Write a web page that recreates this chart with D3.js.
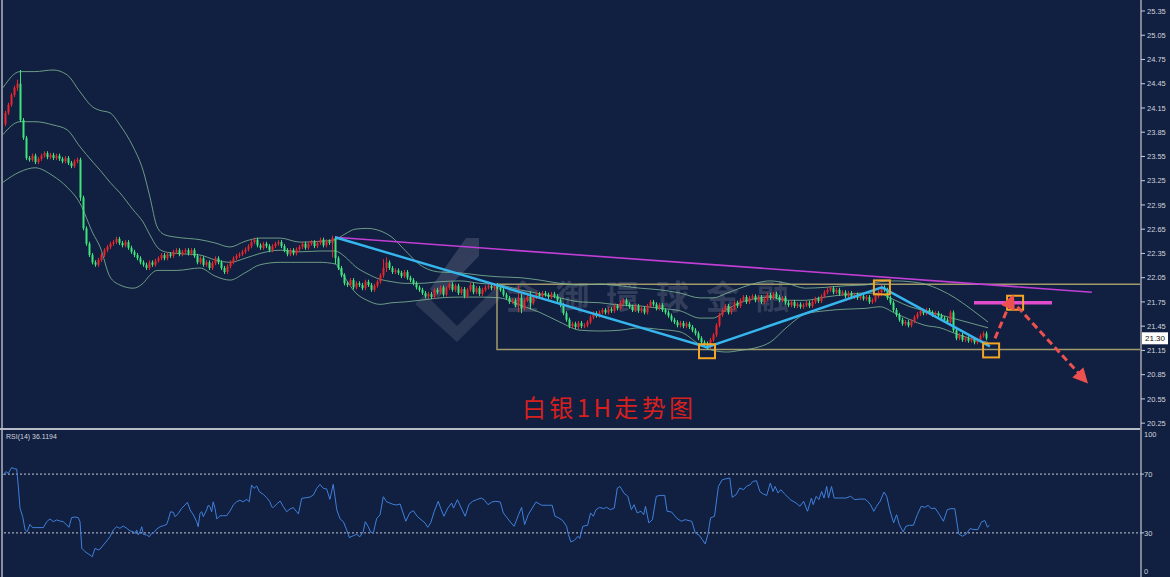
<!DOCTYPE html>
<html><head><meta charset="utf-8">
<script src="https://cdn.jsdelivr.net/npm/d3@7"></script>
<style>html,body{margin:0;padding:0;background:#111f40;overflow:hidden}</style>
</head><body><svg id="c" width="1170" height="577"></svg>
<script>
// ---------------- DATA ----------------
const firstOpen = 23.95;
const closes = [
24.09,24.19,24.31,24.40,24.45,24.00,23.78,23.53,23.51,23.56,
23.48,23.52,23.56,23.59,23.54,23.57,23.53,23.56,23.52,23.49,
23.53,23.47,23.43,23.49,23.51,23.04,22.66,22.47,22.33,22.24,
22.21,22.27,22.33,22.39,22.43,22.47,22.49,22.53,22.48,22.45,
22.49,22.42,22.37,22.33,22.29,22.24,22.21,22.17,22.24,22.21,
22.26,22.29,22.33,22.29,22.34,22.32,22.37,22.39,22.34,22.37,
22.39,22.35,22.39,22.32,22.24,22.29,22.21,22.24,22.17,22.23,
22.29,22.24,22.17,22.12,22.19,22.24,22.29,22.32,22.34,22.37,
22.40,22.44,22.49,22.52,22.45,22.42,22.47,22.44,22.39,22.44,
22.47,22.49,22.44,22.39,22.34,22.39,22.35,22.40,22.43,22.47,
22.42,22.47,22.49,22.44,22.48,22.52,22.45,22.50,22.48,22.54,
22.29,22.17,22.08,21.98,21.96,22.02,21.93,21.98,21.96,21.92,
22.00,21.96,21.90,21.95,22.00,22.08,22.17,22.24,22.17,22.12,
22.14,22.11,22.07,22.12,22.05,22.02,21.98,21.93,21.90,21.86,
21.82,21.85,21.81,21.90,21.87,21.93,21.84,21.92,21.97,21.90,
21.95,21.86,21.91,21.82,21.90,21.96,21.87,21.92,21.85,21.90,
21.93,21.95,21.92,21.96,21.93,21.90,21.84,21.80,21.75,21.77,
21.71,21.80,21.67,21.77,21.82,21.74,21.81,21.85,21.82,21.86,
21.84,21.81,21.85,21.82,21.77,21.71,21.61,21.53,21.45,21.48,
21.44,21.49,21.45,21.46,21.50,21.56,21.61,21.58,21.62,21.65,
21.62,21.66,21.64,21.70,21.67,21.74,21.77,21.72,21.69,21.65,
21.70,21.64,21.67,21.62,21.70,21.75,21.72,21.67,21.71,21.65,
21.62,21.58,21.53,21.50,21.46,21.49,21.45,21.48,21.44,21.40,
21.36,21.30,21.25,21.22,21.19,21.28,21.34,21.46,21.59,21.65,
21.70,21.62,21.67,21.74,21.70,21.77,21.81,21.75,21.80,21.82,
21.77,21.81,21.75,21.79,21.84,21.80,21.85,21.81,21.77,21.80,
21.74,21.71,21.75,21.70,21.72,21.69,21.71,21.74,21.70,21.75,
21.79,21.76,21.82,21.87,21.90,21.92,21.87,21.90,21.85,21.87,
21.82,21.86,21.81,21.84,21.80,21.82,21.79,21.81,21.75,21.77,
21.82,21.87,21.93,21.90,21.80,21.74,21.65,21.59,21.53,21.48,
21.50,21.46,21.51,21.56,21.60,21.64,21.61,21.65,21.62,21.59,
21.61,21.58,21.55,21.53,21.50,21.62,21.40,21.30,21.34,21.28,
21.30,21.27,21.29,21.25,21.28,21.33,21.36,21.30];
// notable wicks: [candle index, high, low]
const bigWicks = [[4,24.50,24.36],[5,24.62,23.98],[25,23.53,23.00],[109,22.57,22.30],[110,22.56,22.22],
  [126,22.28,22.05],[127,22.30,22.12],[171,21.95,21.62],[172,21.85,21.61],[175,21.88,21.66],
  [234,21.26,21.16],[292,21.96,21.82],[315,21.63,21.48]];
const wickDefault = 0.025;

// Bollinger bands (candle index -> price)
const bandIdx = [-0.7,5,10,16,20.7,25,29.3,31.7,35,38.3,42.7,46,48.3,50.7,53.3,57.3,65,70,75,80,85,91.7,98.3,105,110,113.3,116.7,120.7,125,129,133.3,138.3,145,151.7,158.3,165,171.7,178.3,185,191.7,198.3,205,211.7,218.3,225,231.7,236,240.7,245,250,255,260.7,266.7,273.3,280,286.7,291.7,296.7,301.7,306.7,311.7,316.7,321.7,327.7];
const bandUpper = [24.40,24.60,24.60,24.62,24.56,24.35,24.16,24.12,24.09,23.94,23.67,23.38,23.05,22.68,22.58,22.55,22.52,22.48,22.43,22.50,22.54,22.54,22.49,22.50,22.52,22.59,22.65,22.66,22.63,22.55,22.39,22.21,22.12,22.11,22.08,22.06,22.05,22.02,21.98,21.96,21.97,21.95,21.92,21.90,21.86,21.80,21.80,21.86,21.92,21.98,22.01,21.98,21.92,21.93,21.95,21.96,22.00,22.01,22.00,21.97,21.90,21.80,21.67,21.50];
const bandMiddle = [23.82,23.98,23.98,23.94,23.88,23.67,23.48,23.38,23.23,23.10,22.89,22.74,22.58,22.43,22.37,22.35,22.33,22.27,22.24,22.29,22.35,22.39,22.37,22.38,22.38,22.31,22.19,22.10,22.03,22.00,21.98,21.98,22.00,22.01,21.98,21.96,21.90,21.85,21.80,21.75,21.74,21.71,21.70,21.67,21.64,21.55,21.55,21.66,21.74,21.79,21.81,21.77,21.77,21.81,21.84,21.86,21.85,21.77,21.69,21.64,21.59,21.54,21.49,21.43];
const bandLower = [23.23,23.36,23.41,23.31,23.17,22.97,22.60,22.43,22.06,21.96,21.92,21.98,22.08,22.14,22.14,22.14,22.17,22.07,22.02,22.11,22.21,22.24,22.24,22.24,22.22,22.05,21.87,21.77,21.72,21.74,21.75,21.77,21.80,21.81,21.81,21.80,21.71,21.62,21.50,21.40,21.39,21.40,21.43,21.41,21.38,21.22,21.15,21.13,21.15,21.18,21.25,21.44,21.60,21.64,21.66,21.67,21.69,21.61,21.53,21.46,21.43,21.36,21.30,21.25];

// RSI(14): [candle index, value]
const rsiSeries = [[-0.6,69.4],[0.3,71.7],[1.1,70.5],[2.2,74.4],[3.3,73.5],[3.9,73.5],[4.4,62.6],[5.0,46.7],[5.9,41.0],[6.7,32.0],[7.4,30.8],[8.3,35.8],[9.2,33.6],[10.6,33.6],[12.8,33.6],[13.9,37.6],[15.0,39.5],[16.1,37.6],[17.2,38.8],[18.3,38.1],[19.4,37.6],[20.6,35.4],[21.3,33.8],[22.2,40.4],[23.3,40.8],[24.4,40.4],[25.0,37.6],[25.6,19.5],[26.7,17.2],[28.3,15.0],[29.1,13.8],[30.0,19.5],[31.1,18.4],[31.7,19.0],[32.8,21.8],[33.9,24.5],[35.0,27.4],[36.1,32.0],[37.2,34.2],[38.3,33.1],[39.4,34.7],[40.6,33.1],[41.7,31.3],[42.8,30.8],[43.3,29.5],[43.9,32.0],[44.4,28.6],[45.0,30.8],[45.6,34.2],[46.1,29.0],[47.2,28.6],[48.1,27.4],[48.9,29.7],[49.7,30.4],[50.6,32.7],[51.7,34.2],[52.8,34.9],[53.9,35.8],[54.4,38.8],[55.2,44.4],[56.1,44.0],[56.7,41.0],[57.8,43.3],[58.9,46.7],[60.0,49.0],[60.8,50.8],[61.7,45.6],[62.8,42.2],[63.9,37.6],[64.4,34.2],[65.0,43.3],[65.6,44.4],[66.1,41.0],[67.2,45.6],[67.8,49.0],[68.3,47.8],[68.9,44.4],[69.4,51.2],[70.0,46.7],[70.6,39.5],[71.7,41.7],[72.8,41.7],[73.9,41.7],[75.0,44.9],[76.1,49.0],[77.2,51.2],[78.3,52.2],[79.4,51.2],[80.6,52.8],[81.4,51.2],[82.2,62.6],[83.0,60.3],[83.9,61.9],[84.8,58.0],[86.1,56.2],[87.2,54.0],[88.3,51.2],[88.9,47.8],[89.4,47.2],[90.6,49.7],[91.7,51.7],[92.8,47.8],[93.9,44.4],[95.0,46.3],[96.1,47.2],[97.2,44.4],[97.8,42.9],[98.9,53.5],[100.6,54.0],[101.7,54.4],[102.8,55.8],[103.9,60.3],[105.0,63.0],[106.1,60.3],[107.2,59.9],[108.3,52.8],[109.4,63.0],[110.0,54.6],[110.6,45.6],[111.7,39.5],[112.8,37.6],[113.9,32.0],[114.8,26.8],[116.1,28.1],[117.2,29.0],[118.3,27.4],[119.4,30.8],[120.1,37.6],[121.1,34.2],[121.9,30.4],[122.8,30.2],[123.9,39.9],[125.0,42.2],[126.1,54.6],[127.2,51.2],[129.4,49.4],[130.6,49.0],
[131.7,49.7],[133.6,37.9],[134.9,43.6],[136.1,45.1],[137.4,41.3],[138.7,39.0],[140.0,36.8],[140.9,33.8],[141.9,36.8],[143.1,44.7],[144.4,51.5],[145.4,45.8],[146.3,41.3],[147.6,46.9],[148.9,50.3],[149.5,46.9],[150.8,52.6],[152.1,46.9],[153.4,41.3],[154.6,49.2],[155.9,51.5],[157.2,52.6],[158.7,53.7],[159.7,52.6],[161.0,49.2],[162.3,51.0],[163.6,51.5],[165.1,51.0],[166.1,43.6],[167.4,40.2],[168.7,36.8],[169.7,34.5],[171.2,42.4],[172.2,47.4],[173.2,35.6],[174.4,42.4],[177.0,51.0],[178.9,48.8],[180.8,48.8],[182.4,48.8],[183.3,41.3],[184.6,40.2],[185.9,38.4],[187.2,34.5],[187.8,28.9],[188.6,23.9],[189.7,24.8],[191.0,27.7],[191.6,26.2],[192.6,34.5],[194.2,35.2],[195.2,43.6],[196.1,41.3],[197.0,45.8],[198.2,47.4],[199.5,46.5],[200.5,47.4],[201.8,45.8],[203.1,46.9],[204.1,60.5],[205.0,61.6],[206.3,57.1],[207.6,54.9],[208.8,45.8],[209.7,49.2],[210.7,43.6],[212.0,44.7],[212.9,42.4],[213.5,48.1],[214.6,36.8],[215.8,39.0],[217.1,54.9],[218.4,55.5],[219.9,55.5],[220.7,44.7],[222.2,44.2],[223.8,40.2],[225.4,37.9],[226.7,39.0],[228.9,37.9],[230.1,30.0],[231.4,28.4],[232.4,25.5],[233.4,22.5],[234.3,28.9],[235.2,40.2],[236.5,41.3],[237.8,61.6],[239.1,66.2],[240.3,66.8],[241.6,67.3],[242.4,54.2],[243.7,56.0],[244.9,60.5],[246.2,59.4],[247.1,61.6],[248.4,62.8],[249.3,65.0],[250.5,65.5],[251.6,58.2],[252.8,56.4],[253.9,55.5],[255.1,63.9],[256.0,58.2],[256.7,61.6],[257.7,57.1],[258.6,59.4],[259.9,56.4],[261.8,52.6],[263.7,50.3],[265.0,48.1],[266.2,51.5],[267.5,44.7],[268.8,53.7],[269.4,49.2],[270.4,54.9],[271.3,52.6],[272.2,58.2],[273.0,53.7],[273.9,61.6],[274.5,53.7],[275.5,61.6],[276.4,53.7],[278.3,53.7],[280.3,53.7],[281.9,54.9],[283.2,52.6],[284.7,53.0],[286.6,53.0],[287.5,51.5],[288.5,49.2],[289.6,44.7],[290.5,48.1],[291.7,51.5],[293.0,57.8],[293.9,54.9],[294.9,45.8],[296.2,36.8],[297.2,42.4],[298.1,35.6],[299.4,30.7],[300.3,34.5],[301.5,35.2],[302.8,35.2],[304.1,42.4],[305.4,48.1],[306.7,47.4],[307.7,48.8],[308.7,46.5],[310.0,46.9],[311.5,42.4],[312.8,37.9],[314.1,45.8],[315.3,46.5],[316.6,46.5],[317.9,29.3],[319.2,27.7],[320.4,29.3],[321.7,32.9],[323.0,32.3],[324.3,32.3],[325.5,37.5],[326.6,38.4],[327.5,33.8],[328.1,35.2]];

const priceTicks = [25.35,25.05,24.75,24.45,24.15,23.85,23.55,23.25,22.95,22.65,22.35,22.05,21.75,21.45,21.15,20.85,20.55,20.25];
const rsiTicks = [100,70,30,0];
const rsiLevels = [70,30];
const rsiLabel = "RSI(14) 36.1194";
const title = "白银1H走势图";
const watermark = ["金","御","環","球","金","融"];
// drawn analysis: [candle index, price]
const zigzag = [[110,22.55],[234,21.19],[292.3,21.93],[328.3,21.20]];
const trendTop = [[110,22.55],[362.3,21.87]];
const rangeBox = {from:164, top:21.97, bottom:21.16};
const markers = [[234,21.14],[292.3,21.93],[328.7,21.15],[336.7,21.74]];
const pinkLevel = {from:323, to:349, price:21.74};
const arrowUp = [[330,21.30],[335.3,21.76]];
const arrowDown = [[337.5,21.69],[359.3,20.81]];

// ---------------- CHART ----------------
const W=1170,H=577, axisX=1141;
const svg=d3.select('#c');
svg.append('rect').attr('width',W).attr('height',H).attr('fill','#111f40');

const N = closes.length;
const x=d3.scaleLinear().domain([0,N-1]).range([5,986]);
const y=d3.scaleLinear().domain([20.19,25.486]).range([428,0]);
const yr=d3.scaleLinear().domain([0,100]).range([577,430]);

const wickMap = new Map(bigWicks.map(d=>[d[0],d]));
const candles = closes.map((c,i)=>{
  const o = i===0?firstOpen:closes[i-1];
  let h = Math.max(o,c)+wickDefault, l = Math.min(o,c)-wickDefault;
  const w = wickMap.get(i);
  if(w){ h=Math.max(h,w[1]); l=Math.min(l,w[2]); }
  return {i,o,c,h,l};
});

const main = svg.append('g');
main.append('clipPath').attr('id','cp').append('rect').attr('x',3).attr('y',0).attr('width',axisX-3).attr('height',428);

// watermark logo + text
const wm = main.append('g').attr('opacity',0.24);
wm.append('polygon').attr('points','466,238 479,238 479,256 438,298 430,289').attr('fill','#9aa0b4');
wm.append('polygon').attr('points','415,304 457,342 499,300 499,284 457,326 425,294').attr('fill','#7c8498');
wm.selectAll('text').data(watermark).join('text')
  .attr('x',(d,k)=>506+k*50).attr('y',309)
  .attr('font-family','Noto Sans CJK TC').attr('font-size',33).attr('font-weight',700)
  .attr('fill','#9aa0b4').text(d=>d);

const g = main.append('g').attr('clip-path','url(#cp)');
// range box
g.append('path').attr('fill','none').attr('stroke','#a39a6c').attr('stroke-width',1.5)
  .attr('d',`M${axisX},${y(rangeBox.top)}H${x(rangeBox.from)}V${y(rangeBox.bottom)}H${axisX}`);

// bands
const bandColor='#7fb896';
[bandUpper,bandMiddle,bandLower].forEach(arr=>{
  g.append('path').datum(arr.map((v,k)=>[bandIdx[k],v])).attr('fill','none').attr('stroke',bandColor)
   .attr('stroke-width',0.9).attr('opacity',0.9)
   .attr('d',d3.line().curve(d3.curveMonotoneX).x(d=>x(d[0])).y(d=>y(d[1])));
});

// candles
const up='#e8262c', dn='#3ee57c';
const cg = g.append('g');
cg.selectAll('line').data(candles).join('line')
  .attr('x1',d=>x(d.i)+0.5).attr('x2',d=>x(d.i)+0.5).attr('y1',d=>y(d.h)).attr('y2',d=>y(d.l))
  .attr('stroke',d=>d.c>=d.o?up:dn).attr('stroke-width',1);
cg.selectAll('rect').data(candles).join('rect')
  .attr('x',d=>x(d.i)-0.5).attr('width',2)
  .attr('y',d=>y(Math.max(d.o,d.c))).attr('height',d=>Math.max(1,Math.abs(y(d.o)-y(d.c))))
  .attr('fill',d=>d.c>=d.o?up:dn);

// trend line (magenta)
main.append('path').datum(trendTop).attr('fill','none').attr('stroke','#c23fd6').attr('stroke-width',1.6)
  .attr('d',d3.line().x(d=>x(d[0])).y(d=>y(d[1])));
// zigzag (blue)
main.append('path').datum(zigzag).attr('fill','none').attr('stroke','#36b6ec').attr('stroke-width',2.4)
  .attr('d',d3.line().x(d=>x(d[0])).y(d=>y(d[1])));
// pink level
main.append('line').attr('x1',x(pinkLevel.from)).attr('x2',x(pinkLevel.to))
  .attr('y1',y(pinkLevel.price)).attr('y2',y(pinkLevel.price)).attr('stroke','#e04ccc').attr('stroke-width',3.5);
// markers
main.selectAll('rect.mk').data(markers).join('rect').attr('class','mk')
  .attr('x',d=>x(d[0])-8).attr('y',d=>y(d[1])-7).attr('width',16).attr('height',14)
  .attr('fill','none').attr('stroke','#f3a526').attr('stroke-width',2);

// arrows
const defs=svg.append('defs');
defs.append('marker').attr('id','ah').attr('viewBox','0 0 10 10').attr('refX',5).attr('refY',5)
  .attr('markerWidth',5).attr('markerHeight',5).attr('orient','auto').attr('markerUnits','strokeWidth')
  .append('path').attr('d','M0,0L10,5L0,10z').attr('fill','#ec5150');
[arrowUp,arrowDown].forEach(a=>{
  main.append('line').attr('x1',x(a[0][0])).attr('y1',y(a[0][1])).attr('x2',x(a[1][0])).attr('y2',y(a[1][1]))
    .attr('stroke','#ec5150').attr('stroke-width',3).attr('stroke-dasharray','7,4').attr('marker-end','url(#ah)');
});

// title
main.append('text').attr('x',522).attr('y',417).attr('font-family','Noto Sans CJK SC').attr('font-size',24)
  .attr('fill','#d8201e').attr('textLength',171).attr('lengthAdjust','spacing').text(title);

// frame lines
svg.append('line').attr('x1',2).attr('x2',2).attr('y1',0).attr('y2',H).attr('stroke','#8a909e').attr('stroke-width',2);
svg.append('line').attr('x1',0).attr('x2',axisX).attr('y1',429).attr('y2',429).attr('stroke','#b8bcc6').attr('stroke-width',2);
svg.append('line').attr('x1',axisX).attr('x2',axisX).attr('y1',0).attr('y2',H).attr('stroke','#7e8494').attr('stroke-width',2);

// price axis
const pa = svg.append('g');
pa.selectAll('line').data(priceTicks).join('line').attr('x1',axisX).attr('x2',axisX+4)
  .attr('y1',d=>y(d)).attr('y2',d=>y(d)).attr('stroke','#c8ccd6');
pa.selectAll('text').data(priceTicks).join('text').attr('x',axisX+6).attr('y',d=>y(d)+2.6)
  .attr('font-family','Liberation Sans').attr('font-size',7.5).attr('fill','#d0d4de').text(d=>d.toFixed(2));
const last = closes[N-1];
svg.append('rect').attr('x',axisX+1).attr('y',y(last)-6).attr('width',26).attr('height',12).attr('fill','#ffffff');
svg.append('text').attr('x',axisX+4).attr('y',y(last)+3).attr('font-family','Liberation Sans').attr('font-size',8)
  .attr('fill','#111').text(last.toFixed(2));

// RSI pane
const rp = svg.append('g');
rp.selectAll('line.lv').data(rsiLevels).join('line').attr('class','lv').attr('x1',4).attr('x2',axisX)
  .attr('y1',d=>yr(d)).attr('y2',d=>yr(d)).attr('stroke','#c8ccd6').attr('stroke-width',1).attr('stroke-dasharray','2,2');
rp.append('path').datum(rsiSeries).attr('fill','none').attr('stroke','#3f80dc').attr('stroke-width',1)
  .attr('d',d3.line().x(d=>Math.max(3,x(d[0]))).y(d=>yr(d[1])));
rp.selectAll('text.rt').data(rsiTicks).join('text').attr('class','rt').attr('x',axisX+3)
  .attr('y',d=>Math.min(574,Math.max(437,yr(d)+3)))
  .attr('font-family','Liberation Sans').attr('font-size',7.5).attr('fill','#d0d4de').text(d=>d);
rp.selectAll('line.rk').data(rsiLevels).join('line').attr('class','rk').attr('x1',axisX).attr('x2',axisX+3)
  .attr('y1',d=>yr(d)).attr('y2',d=>yr(d)).attr('stroke','#c8ccd6');
rp.append('text').attr('x',6).attr('y',439).attr('font-family','Liberation Sans').attr('font-size',7)
  .attr('fill','#d0d4de').text(rsiLabel);
</script></body></html>
